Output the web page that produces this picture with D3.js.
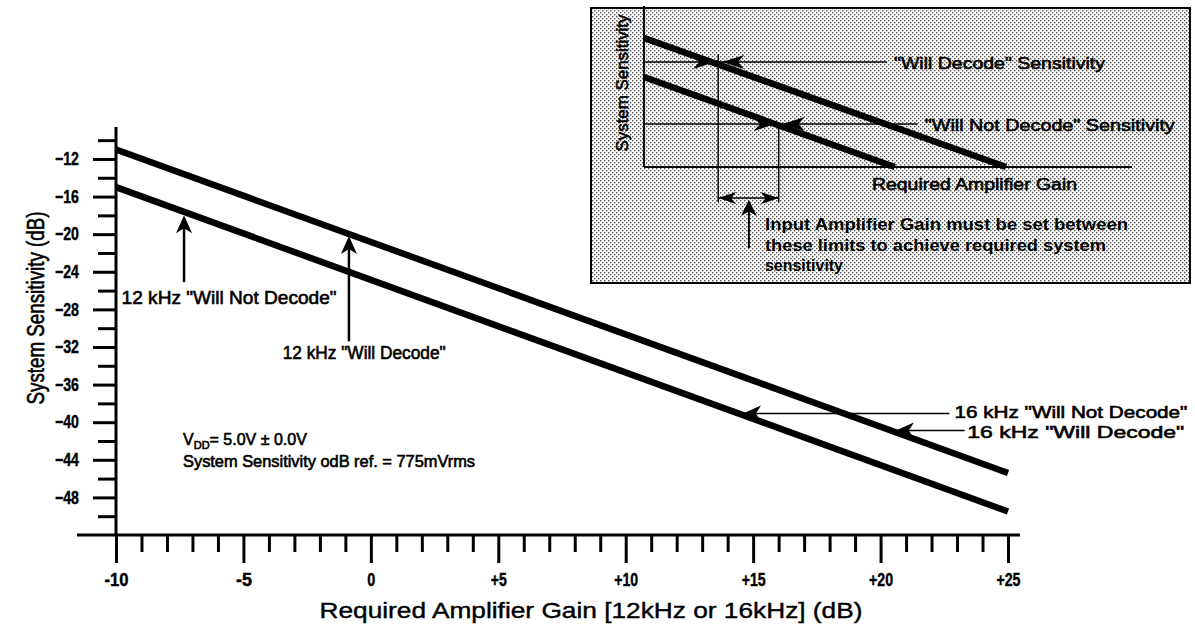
<!DOCTYPE html>
<html>
<head>
<meta charset="utf-8">
<script src="https://cdn.jsdelivr.net/npm/d3@7"></script>
<style>
  body { margin: 0; background: #fff; }
  text { font-family: "Liberation Sans", Arial, Helvetica, sans-serif; fill: #000; }
</style>
</head>
<body>
<div id="chart"></div>
<script>
// ---- data ----
var gainPts = [-10, 25];                 // required amplifier gain (dB)
var upperLine = [-11, -45.4];            // upper line (dB)
var lowerLine = [-15, -49.5];            // lower line (dB)
var xTicks = [-10, -5, 0, 5, 10, 15, 20, 25];
var xMinor = [-9, -8, -7, -6, -4, -3, -2, -1, 1, 2, 3, 4, 6, 7, 8, 9, 11, 12, 13, 14, 16, 17, 18, 19, 21, 22, 23, 24];
var yTicks = [-12, -16, -20, -24, -28, -32, -36, -40, -44, -48];
var yMinor = [-10, -14, -18, -22, -26, -30, -34, -38, -42, -46, -50];

// annotations: arrow tip / tail in data units, label position
var vArrows = [
  {label: '12 kHz "Will Not Decode"', tip: [-7.33, -18.0], tail: -25.1, lx: -9.78, ly: -27.4, w: 215},
  {label: '12 kHz "Will Decode"', tip: [-0.86, -20.2], tail: -31.4, lx: -3.46, ly: -33.3, w: 163}
];
var hArrows = [
  {label: '16 kHz "Will Not Decode"', tip: [14.6, -39.3], tail: 22.7, lx: 22.9, ly: -39.6, w: 233},
  {label: '16 kHz "Will Decode"', tip: [20.6, -41.1], tail: 23.3, lx: 23.4, ly: -41.7, w: 217}
];

// inset diagram (schematic units 0..100)
var insetUpper = [[0, 80.1], [74.2, 0]];
var insetLower = [[0, 55.9], [51.4, 0]];
var insetLevels = [
  {label: '"Will Decode" Sensitivity', y: 65.2, end: 49.8, w: 211},
  {label: '"Will Not Decode" Sensitivity', y: 26.7, end: 56.1, w: 250}
];
var insetLimits = [15.2, 27.6];
var insetNote = ["Input Amplifier Gain must be set between", "these limits to achieve required system", "sensitivity"];
var insetNoteW = [363, 341, 78];

var W = 1195, H = 631;
var svg = d3.select("#chart").append("svg").attr("width", W).attr("height", H);
svg.append("rect").attr("width", W).attr("height", H).attr("fill", "#fff");

var x = d3.scaleLinear().domain([-10, 25]).range([116, 1008]);
var y = d3.scaleLinear().domain([-52, -8.6]).range([535, 127]);

// arrow head: tip at (px,py) pointing along angle
function head(g, px, py, ang, L, hw) {
  var pts = [[0, 0], [-L, -hw], [-L * 0.72, 0], [-L, hw]];
  var c = Math.cos(ang), s = Math.sin(ang);
  var d = "M" + pts.map(function(p) {
    return [px + p[0] * c - p[1] * s, py + p[0] * s + p[1] * c].join(",");
  }).join("L") + "Z";
  g.append("path").attr("d", d).attr("fill", "#000");
}
function heavy(t, w) {
  return t.attr("stroke", "#000").attr("stroke-width", w || 0.5);
}

// ---- axes ----
var yMaj = svg.append("g").attr("transform", "translate(116,0)")
  .call(d3.axisLeft(y).tickValues(yTicks).tickSize(23).tickPadding(14).tickFormat(d3.format("d")));
var yMin = svg.append("g").attr("transform", "translate(116,0)")
  .call(d3.axisLeft(y).tickValues(yMinor).tickSize(18).tickFormat(""));
var xMaj = svg.append("g").attr("transform", "translate(0,535)")
  .call(d3.axisBottom(x).tickValues(xTicks).tickSize(28).tickPadding(10)
    .tickFormat(function(d) { return d > 0 ? "+" + d : d; }));
var xMin = svg.append("g").attr("transform", "translate(0,535)")
  .call(d3.axisBottom(x).tickValues(xMinor).tickSize(17).tickFormat(""));
[yMaj, yMin, xMaj, xMin].forEach(function(a) {
  a.select(".domain").remove();
  a.selectAll("line").attr("stroke", "#000").attr("stroke-width", 3);
  a.selectAll("text").attr("font-size", 18).attr("font-weight", "bold")
    .attr("font-family", '"Liberation Sans Narrow", "Liberation Sans", Arial, sans-serif').attr("fill", "#000")
    .attr("stroke", "#000").attr("stroke-width", 0.4)
    .attr("textLength", function() { return this.textContent.length * 8; })
    .attr("lengthAdjust", "spacingAndGlyphs");
});
// axis lines
svg.append("line").attr("x1", x(-10)).attr("x2", x(-10)).attr("y1", y(-8.6)).attr("y2", 535)
  .attr("stroke", "#000").attr("stroke-width", 3);
svg.append("line").attr("x1", 77).attr("x2", 1020).attr("y1", y(-52)).attr("y2", y(-52))
  .attr("stroke", "#000").attr("stroke-width", 3);

// axis titles
heavy(svg.append("text").attr("x", 591).attr("y", 618).attr("text-anchor", "middle")
  .attr("font-size", 22).attr("textLength", 543).attr("lengthAdjust", "spacingAndGlyphs")
  .text("Required Amplifier Gain [12kHz or 16kHz] (dB)"), 0.4);
heavy(svg.append("text").attr("transform", "translate(44,308) rotate(-90)").attr("text-anchor", "middle")
  .attr("font-size", 23).attr("textLength", 193).attr("lengthAdjust", "spacingAndGlyphs")
  .text("System Sensitivity (dB)"), 0.6);

// ---- the two lines ----
var line = d3.line().x(function(d) { return x(d[0]); }).y(function(d) { return y(d[1]); });
[upperLine, lowerLine].forEach(function(vals) {
  svg.append("path").datum(gainPts.map(function(g, i) { return [g, vals[i]]; }))
    .attr("d", line).attr("fill", "none").attr("stroke", "#000").attr("stroke-width", 6.5);
});

// ---- annotations ----
var ann = svg.append("g");
vArrows.forEach(function(a) {
  var px = x(a.tip[0]), py = y(a.tip[1]);
  ann.append("line").attr("x1", px).attr("x2", px).attr("y1", py + 10).attr("y2", y(a.tail))
    .attr("stroke", "#000").attr("stroke-width", 2.5);
  head(ann, px, py, -Math.PI / 2, 18, 8);
  heavy(ann.append("text").attr("x", x(a.lx)).attr("y", y(a.ly)).attr("font-size", 18)
    .attr("textLength", a.w).attr("lengthAdjust", "spacingAndGlyphs").text(a.label), 0.6);
});
hArrows.forEach(function(a) {
  var px = x(a.tip[0]), py = y(a.tip[1]);
  ann.append("line").attr("x1", px + 10).attr("x2", x(a.tail)).attr("y1", py - 2).attr("y2", py - 2)
    .attr("stroke", "#000").attr("stroke-width", 1.5);
  head(ann, px, py - 2, Math.PI, 18, 8);
  heavy(ann.append("text").attr("x", x(a.lx)).attr("y", y(a.ly)).attr("font-size", 17)
    .attr("textLength", a.w).attr("lengthAdjust", "spacingAndGlyphs").text(a.label), 0.6);
});
var vdd = heavy(ann.append("text").attr("x", x(-7.37)).attr("y", y(-42.4)).attr("font-size", 16), 0.6);
vdd.append("tspan").text("V");
vdd.append("tspan").attr("font-size", 11).attr("dy", 4).text("DD");
vdd.append("tspan").attr("dy", -4).text("= 5.0V \u00b1 0.0V");
heavy(ann.append("text").attr("x", x(-7.37)).attr("y", y(-44.75)).attr("font-size", 16)
  .attr("textLength", 292).attr("lengthAdjust", "spacingAndGlyphs")
  .text("System Sensitivity odB ref. = 775mVrms"), 0.6);

// ---- inset ----
var defs = svg.append("defs");
var pat = defs.append("pattern").attr("id", "dots").attr("patternUnits", "userSpaceOnUse")
  .attr("width", 4).attr("height", 4);
pat.append("rect").attr("width", 4).attr("height", 4).attr("fill", "#fff");
pat.append("rect").attr("x", 0).attr("y", 0).attr("width", 1.4).attr("height", 1.4).attr("fill", "#555");
pat.append("rect").attr("x", 2).attr("y", 2).attr("width", 1.4).attr("height", 1.4).attr("fill", "#555");

var inset = svg.append("g");
inset.append("rect").attr("x", 591).attr("y", 8).attr("width", 599).attr("height", 275)
  .attr("fill", "url(#dots)").attr("stroke", "#000").attr("stroke-width", 2);

var ix = d3.scaleLinear().domain([0, 100]).range([644, 1132]);
var iy = d3.scaleLinear().domain([0, 100]).range([167, 6]);

inset.append("line").attr("x1", ix(0)).attr("x2", ix(0)).attr("y1", iy(0)).attr("y2", iy(100))
  .attr("stroke", "#000").attr("stroke-width", 2);
inset.append("line").attr("x1", ix(0)).attr("x2", ix(100)).attr("y1", iy(0)).attr("y2", iy(0))
  .attr("stroke", "#000").attr("stroke-width", 2);
var iline = d3.line().x(function(d) { return ix(d[0]); }).y(function(d) { return iy(d[1]); });
[insetUpper, insetLower].forEach(function(d) {
  inset.append("path").datum(d).attr("d", iline).attr("fill", "none")
    .attr("stroke", "#000").attr("stroke-width", 6.5);
});
insetLevels.forEach(function(l, i) {
  inset.append("line").attr("x1", ix(0)).attr("x2", ix(l.end)).attr("y1", iy(l.y)).attr("y2", iy(l.y))
    .attr("stroke", "#000").attr("stroke-width", 1.5);
  heavy(inset.append("text").attr("x", ix(l.end) + 7).attr("y", iy(l.y) + 7).attr("font-size", 17)
    .attr("textLength", l.w).attr("lengthAdjust", "spacingAndGlyphs").text(l.label), 0.6);
  var lx = ix(insetLimits[i]), ly = iy(l.y);
  inset.append("line").attr("x1", lx).attr("x2", lx).attr("y1", ly - (i === 0 ? 8 : 0)).attr("y2", iy(-21.7))
    .attr("stroke", "#000").attr("stroke-width", 1.5);
  head(inset, lx - 3, ly, 0, 22, 7);
  head(inset, lx + 4, ly, Math.PI, 22, 7);
});
// dimension arrow between limits
var dy0 = iy(-19.3);
inset.append("line").attr("x1", ix(insetLimits[0])).attr("x2", ix(insetLimits[1])).attr("y1", dy0).attr("y2", dy0)
  .attr("stroke", "#000").attr("stroke-width", 1.5);
head(inset, ix(insetLimits[0]), dy0, Math.PI, 18, 6);
head(inset, ix(insetLimits[1]), dy0, 0, 18, 6);
var ux = ix(21.5);
inset.append("line").attr("x1", ux).attr("x2", ux).attr("y1", iy(-22)).attr("y2", iy(-50.3))
  .attr("stroke", "#000").attr("stroke-width", 2);
head(inset, ux, iy(-20.5), -Math.PI / 2, 16, 8);

heavy(inset.append("text").attr("x", 872).attr("y", 190).attr("font-size", 17)
  .attr("textLength", 205).attr("lengthAdjust", "spacingAndGlyphs").text("Required Amplifier Gain"), 0.6);
heavy(inset.append("text").attr("transform", "translate(628,83) rotate(-90)").attr("text-anchor", "middle")
  .attr("font-size", 17).attr("textLength", 137).attr("lengthAdjust", "spacingAndGlyphs")
  .text("System Sensitivity"), 0.6);
insetNote.forEach(function(t, i) {
  inset.append("text").attr("x", 765).attr("y", 230 + i * 20.5).attr("font-size", 17)
    .attr("font-weight", "bold").attr("textLength", insetNoteW[i]).attr("lengthAdjust", "spacingAndGlyphs")
    .text(t);
});
</script>
</body>
</html>
